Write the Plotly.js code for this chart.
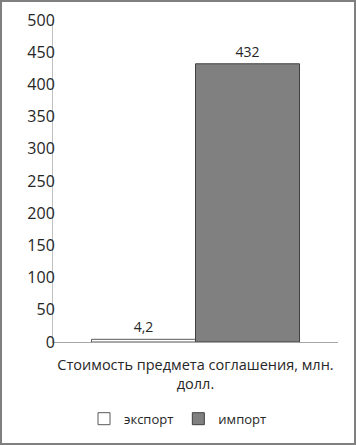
<!DOCTYPE html>
<html><head><meta charset="utf-8">
<script src="https://cdn.plot.ly/plotly-3.0.1.min.js"></script>
<style>
html,body{margin:0;padding:0;background:#fff;}
#frame{width:352px;height:441px;border:2px solid #7f7f7f;}
#chart{width:352px;height:441px;}
</style></head>
<body><div id="frame"><div id="chart"></div></div>
<script>
var categories = ['Стоимость предмета соглашения, млн.<br>долл.'];
var seriesNames = ['экспорт', 'импорт'];
var exportValues = [4.2];
var importValues = [432];
var exportLabels = ['4,2'];
var importLabels = ['432'];
var yTicks = [0, 50, 100, 150, 200, 250, 300, 350, 400, 450, 500];

var fam = 'Open Sans, Noto Sans, sans-serif';
var txt = '#262626';
var traces = [
  {type: 'bar', name: seriesNames[0], x: categories, y: exportValues, text: exportLabels,
   textposition: 'outside', textfont: {family: fam, size: 14, color: txt}, cliponaxis: false,
   marker: {color: '#ffffff', line: {color: '#595959', width: 1}}},
  {type: 'bar', name: seriesNames[1], x: categories, y: importValues, text: importLabels,
   textposition: 'outside', textfont: {family: fam, size: 14, color: txt}, cliponaxis: false,
   marker: {color: '#808080', line: {color: '#404040', width: 1}}}
];
var layout = {
  width: 352, height: 441,
  margin: {l: 51, r: 16, t: 18, b: 101},
  paper_bgcolor: '#fff', plot_bgcolor: '#fff',
  font: {family: fam, size: 14, color: txt},
  barmode: 'group', bargap: 0.27, bargroupgap: 0,
  showlegend: true,
  legend: {orientation: 'h', x: 0.5, xref: 'container', xanchor: 'center', y: 0.055, yref: 'container', yanchor: 'middle',
           font: {family: fam, size: 13, color: txt}, itemwidth: 30, traceorder: 'normal'},
  xaxis: {showline: true, linecolor: '#a6a6a6', linewidth: 1, ticks: 'outside', ticklen: 10, tickcolor: 'rgba(0,0,0,0)',
          showgrid: false, tickfont: {family: fam, size: 14.5, color: txt}, fixedrange: true},
  yaxis: {range: [0, 500], tickvals: yTicks, showline: true, linecolor: '#bfbfbf', linewidth: 1,
          showgrid: false, zeroline: false, ticks: '', ticklabelstandoff: -6,
          tickfont: {family: fam, size: 16, color: txt}, automargin: false}
};
Plotly.newPlot('chart', traces, layout, {staticPlot: true});
</script></body></html>
